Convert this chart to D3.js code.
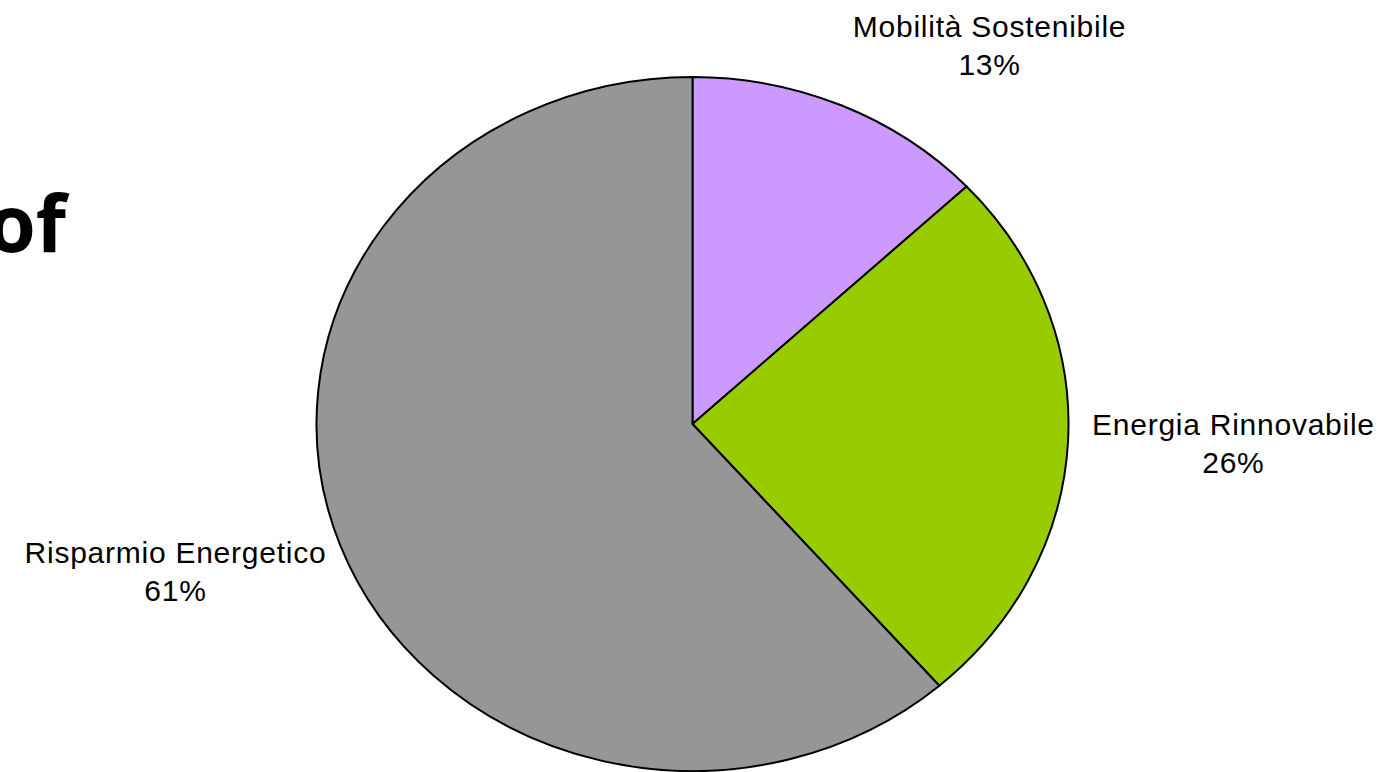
<!DOCTYPE html>
<html>
<head>
<meta charset="utf-8">
<script src="https://d3js.org/d3.v7.min.js"></script>
<style>
  body { margin: 0; background: #fff; overflow: hidden; }
  svg { display: block; }
</style>
</head>
<body>
<script>
// data (slice angles), labels show rounded shares
var categories = ["Mobilità Sostenibile", "Energia Rinnovabile", "Risparmio Energetico"];
var shares = [13.0, 25.6, 61.4];
var colors = ["#cc99ff", "#99cc00", "#969696"];

var width = 1393, height = 772;
var cx = 692.5, cy = 424, rx = 376, ry = 347;

var svg = d3.select("body")
    .append("svg")
    .attr("width", width)
    .attr("height", height);

// leftover of a slide title, cut off at the left edge
svg.append("text")
    .attr("x", 66)
    .attr("y", 252)
    .attr("text-anchor", "end")
    .style("font-family", "'Open Sans', sans-serif")
    .style("font-weight", "bold")
    .style("font-size", "78px")
    .text("of");

var data = categories.map(function(c, i) {
    return { name: c, value: shares[i], color: colors[i] };
});

var pie = d3.pie()
    .sort(null)
    .value(function(d) { return d.value; });

var arcs = pie(data);

var arc = d3.arc()
    .innerRadius(0)
    .outerRadius(ry);

// the pie is a little wider than tall, so scale x
var g = svg.append("g")
    .attr("transform", "translate(" + cx + "," + cy + ") scale(" + (rx / ry) + ",1)");

g.selectAll("path")
    .data(arcs)
    .enter()
    .append("path")
    .attr("d", arc)
    .style("fill", function(d) { return d.data.color; })
    .style("stroke", "#000")
    .style("stroke-width", 2)
    .style("stroke-linejoin", "round")
    .attr("vector-effect", "non-scaling-stroke");

// labels, placed next to the edge at the middle of each slice
var lineH = 38;
var fontSize = 30;

arcs.forEach(function(d) {
    var a = (d.startAngle + d.endAngle) / 2;
    var s = Math.sin(a), c = Math.cos(a);
    var px = cx + rx * s;
    var py = cy - ry * c;

    var lbl = svg.append("g");
    var lines = [d.data.name, Math.round(d.data.value) + "%"];
    var texts = lines.map(function(t) {
        return lbl.append("text")
            .attr("text-anchor", "middle")
            .style("font-family", "'Liberation Sans', Arial, sans-serif")
            .style("font-size", fontSize + "px")
            .style("letter-spacing", "0.75px")
            .style("fill", "#000")
            .text(t);
    });
    var w = d3.max(texts, function(t) { return t.node().getComputedTextLength(); });
    var h = lines.length * lineH;

    var left, top;
    if (s > 0.3) left = px + 11 + (Math.abs(c) < 0.3 ? 13 : 0);
    else if (s < -0.3) left = px - 14 - w;
    else left = px - w / 2;

    if (c > 0.3) top = py - 22 - h;
    else if (c < -0.3) top = py - 12;
    else top = py - h / 2 + 3;

    texts.forEach(function(t, i) {
        t.attr("x", left + w / 2)
         .attr("y", top + (i + 1) * lineH - 9);
    });
});
</script>
</body>
</html>
